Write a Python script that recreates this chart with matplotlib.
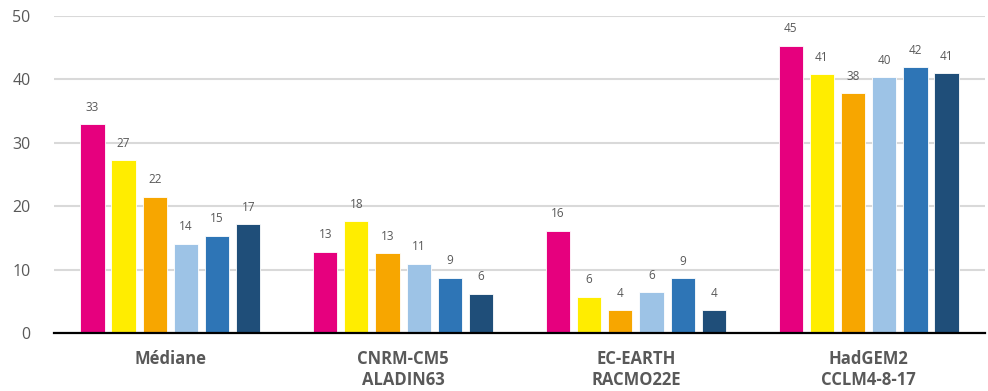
import matplotlib
matplotlib.use("Agg")
import matplotlib.pyplot as plt
import numpy as np

plt.rcParams['font.family'] = ['Open Sans', 'DejaVu Sans']

categories = ["Médiane", "CNRM-CM5\nALADIN63", "EC-EARTH\nRACMO22E", "HadGEM2\nCCLM4-8-17"]
series_1 = [32.9, 12.8, 16.1, 45.3]
series_2 = [27.2, 17.6, 5.7, 40.8]
series_3 = [21.5, 12.6, 3.6, 37.8]
series_4 = [14.1, 10.9, 6.4, 40.3]
series_5 = [15.3, 8.7, 8.6, 41.9]
series_6 = [17.1, 6.2, 3.6, 40.9]
yticks = [0, 10, 20, 30, 40, 50]

series = [series_1, series_2, series_3, series_4, series_5, series_6]
colors = ["#E6007E", "#FFED00", "#F7A600", "#9DC3E6", "#2E75B6", "#1F4E79"]

fig = plt.figure(figsize=(9.88, 3.91), dpi=100)
ax = fig.add_axes([54 / 988, 58 / 391, 931 / 988, 317.3 / 391])

x = np.arange(len(categories))
pitch = 0.134
width = 0.104
text_grey = "#595959"

for i, (vals, col) in enumerate(zip(series, colors)):
    pos = x + (i - 2.5) * pitch
    bars = ax.bar(pos, vals, width=width, color=col, edgecolor="white",
                  linewidth=0.6, zorder=3)
    for b, v in zip(bars, vals):
        ax.annotate(f"{v:.0f}", (b.get_x() + b.get_width() / 2, v),
                    xytext=(0, 7.5), textcoords="offset points",
                    ha="center", va="bottom", fontsize=8.5, color=text_grey)

ax.set_xlim(-0.5, len(categories) - 0.5)
ax.set_ylim(0, 50)
ax.set_yticks(yticks)
ax.set_yticklabels([str(t) for t in yticks], fontsize=11.5, color=text_grey)
ax.yaxis.grid(True, color="#D9D9D9", linewidth=1.5, zorder=0)
ax.set_axisbelow(True)
ax.tick_params(axis="y", length=0, pad=17)
ax.tick_params(axis="x", length=0, pad=12)
ax.set_xticks(x)
ax.set_xticklabels(categories, fontsize=12, fontweight="bold", color=text_grey,
                   linespacing=1.25, va="top")

for side in ["top", "right", "left"]:
    ax.spines[side].set_visible(False)
ax.spines["bottom"].set_color("black")
ax.spines["bottom"].set_linewidth(1.6)
ax.spines["bottom"].set_zorder(4)

fig.savefig("out.png", dpi=100)
